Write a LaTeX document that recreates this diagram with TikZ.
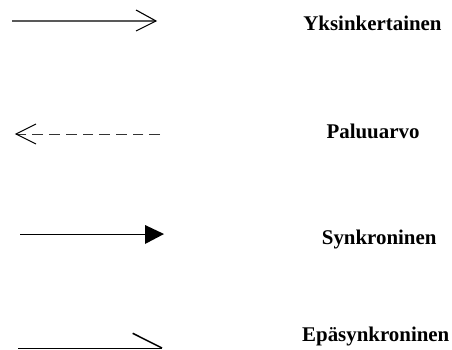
\documentclass[tikz,border=0pt]{standalone}
\usepackage{fontspec}
\setmainfont{Liberation Serif}
\begin{document}
\begin{tikzpicture}[x=1pt,y=-1pt,
  label/.style={anchor=base,inner sep=0pt,font=\fontsize{20.9}{25}\selectfont\bfseries},
  shaft/.style={line width=1pt,black},
  head/.style={line width=1.1pt,black,line join=miter}]
\useasboundingbox (0,0) rectangle (452,350);

% simple message: grey shaft, open head
\coordinate (s1) at (12,21);
\coordinate (t1) at (156,21);
\coordinate (h1a) at (136,10);
\coordinate (h1b) at (136,31);
\draw[line width=1.5pt,black!65] (s1) -- (t1);
\draw[head] (h1a) -- (t1) -- (h1b);
\node[label] (l1) at (372.5,31) {Yksinkertainen};

% return value: dashed shaft, open head pointing left
\coordinate (s2) at (160,134);
\coordinate (t2) at (16,134);
\coordinate (h2a) at (36,124);
\coordinate (h2b) at (36,144);
\draw[shaft,dash pattern=on 10.7pt off 6pt,black!80] (s2) -- (t2);
\draw[head] (h2a) -- (t2) -- (h2b);
\node[label] (l2) at (373,139) {Paluuarvo};

% synchronous: filled triangular head
\coordinate (s3) at (20,234);
\coordinate (b3) at (145,234);
\coordinate (t3) at (164,234);
\coordinate (h3a) at (145,225);
\coordinate (h3b) at (145,244);
\draw[shaft] (s3) -- (b3);
\fill[black] (h3a) -- (t3) -- (h3b) -- cycle;
\node[label] (l3) at (379.2,244) {Synkroninen};

% asynchronous: half head
\coordinate (s4) at (18,348);
\coordinate (t4) at (162,348);
\coordinate (h4a) at (132.7,333.3);
\draw[shaft] (s4) -- (t4);
\draw[line width=1.5pt] (h4a) -- (t4);
\node[label] (l4) at (375.8,341) {Epäsynkroninen};
\end{tikzpicture}
\end{document}
